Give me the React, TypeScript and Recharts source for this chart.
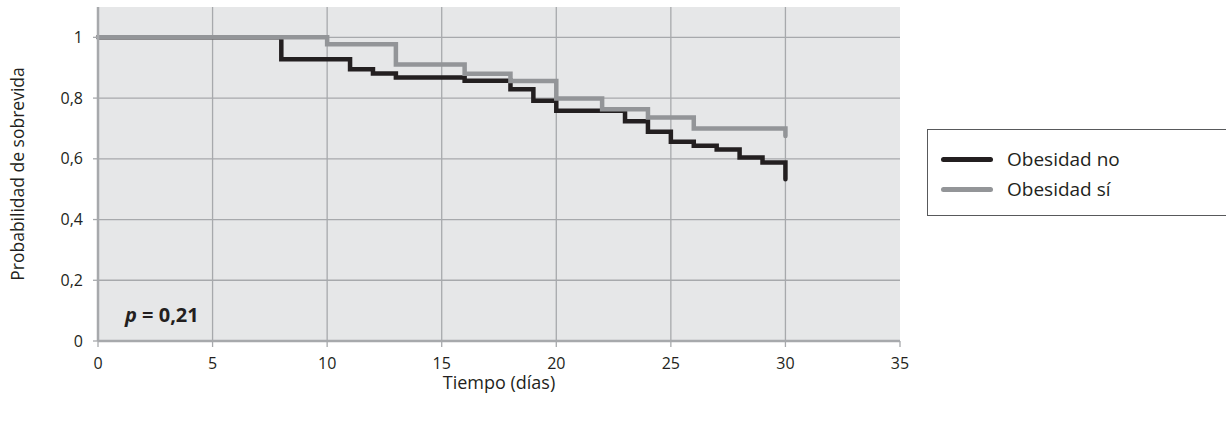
import React from 'react';
import { LineChart, Line, XAxis, YAxis, CartesianGrid } from 'recharts';

const timesNo = [0, 8, 11, 12, 13, 16, 18, 19, 20, 23, 24, 25, 26, 27, 28, 29, 30];
const survNo = [1, 0.928, 0.895, 0.881, 0.868, 0.857, 0.829, 0.791, 0.758, 0.724, 0.689, 0.656, 0.643, 0.631, 0.604, 0.588, 0.533];
const timesSi = [0, 10, 13, 16, 18, 20, 22, 24, 26, 30];
const survSi = [1, 0.977, 0.911, 0.880, 0.856, 0.799, 0.763, 0.736, 0.700, 0.675];

const seriesNames = ['Obesidad no', 'Obesidad sí'];
const seriesColors = ['#231f20', '#939598'];

const xTicks = [0, 5, 10, 15, 20, 25, 30, 35];
const yTicks = [0, 0.2, 0.4, 0.6, 0.8, 1];
const gridX = [0, 5, 10, 15, 20, 25, 30];
const gridY = [0.2, 0.4, 0.6, 0.8, 1];

const dataNo = timesNo.map((t, i) => ({ t, s: survNo[i] }));
const dataSi = timesSi.map((t, i) => ({ t, s: survSi[i] }));

const FONT = '"Open Sans", sans-serif';
const TEXT = '#231f20';
const GRID = '#a7a9ac';

const fmt = (v: number) => String(v).replace('.', ',');

const YLabel = (props: any) => {
  const vb = props.viewBox || {};
  const cy = (vb.y || 0) + (vb.height || 0) / 2;
  return (
    <text
      x={17}
      y={cy}
      transform={`rotate(-90, 17, ${cy})`}
      textAnchor="middle"
      dominantBaseline="central"
      fontFamily={FONT}
      fontSize={17.5}
      fill={TEXT}
    >
      Probabilidad de sobrevida
    </text>
  );
};

export default function App() {
  return (
    <div
      style={{
        position: 'absolute',
        left: 0,
        top: 0,
        width: 1226,
        height: 425,
        overflow: 'hidden',
        background: '#fff',
      }}
    >
      <LineChart
        width={1226}
        height={425}
        margin={{ top: 7, right: 326, left: 0, bottom: 0 }}
      >
        <CartesianGrid
          fill="#e6e7e8"
          stroke={GRID}
          strokeWidth={1.3}
          verticalValues={gridX}
          horizontalValues={gridY}
        />
        <XAxis
          type="number"
          dataKey="t"
          domain={[0, 35]}
          ticks={xTicks}
          allowDuplicatedCategory={false}
          height={84}
          tickSize={6}
          tickMargin={11}
          axisLine={{ stroke: GRID, strokeWidth: 2.5 }}
          tickLine={{ stroke: GRID, strokeWidth: 1.3 }}
          tick={{ fontFamily: FONT, fontSize: 16, fill: TEXT }}
          label={{
            value: 'Tiempo (días)',
            position: 'insideTop',
            offset: 35,
            style: { fontFamily: FONT, fontSize: 18, fill: TEXT },
          }}
        />
        <YAxis
          type="number"
          domain={[0, 1.1]}
          ticks={yTicks}
          width={98}
          tickSize={5}
          tickMargin={10}
          axisLine={{ stroke: GRID, strokeWidth: 2.5 }}
          tickLine={{ stroke: GRID, strokeWidth: 1.3 }}
          tickFormatter={fmt}
          tick={{ fontFamily: FONT, fontSize: 16, fill: TEXT }}
          label={{ content: YLabel }}
        />
        <Line
          data={dataNo}
          dataKey="s"
          name={seriesNames[0]}
          type="stepAfter"
          stroke={seriesColors[0]}
          strokeWidth={4.5}
          dot={false}
          strokeLinecap="round"
          isAnimationActive={false}
        />
        <Line
          data={dataSi}
          dataKey="s"
          name={seriesNames[1]}
          type="stepAfter"
          stroke={seriesColors[1]}
          strokeWidth={4.5}
          dot={false}
          strokeLinecap="round"
          isAnimationActive={false}
        />
      </LineChart>
      <div
        style={{
          position: 'absolute',
          left: 927,
          top: 129,
          width: 310,
          height: 87,
          border: '1px solid #58595b',
          background: '#fff',
          boxSizing: 'border-box',
          paddingTop: 14,
          fontFamily: FONT,
        }}
      >
        {seriesNames.map((n, i) => (
          <div key={n} style={{ display: 'flex', alignItems: 'center', height: 30 }}>
            <div
              style={{
                marginLeft: 13,
                width: 52,
                height: 5,
                borderRadius: 3,
                background: seriesColors[i],
              }}
            />
            <span style={{ marginLeft: 14, fontSize: 19, color: TEXT }}>{n}</span>
          </div>
        ))}
      </div>
      <div
        style={{
          position: 'absolute',
          left: 125,
          top: 301,
          fontFamily: FONT,
          fontSize: 20,
          fontWeight: 700,
          color: TEXT,
          whiteSpace: 'nowrap',
        }}
      >
        <i>p</i> = 0,21
      </div>
    </div>
  );
}
